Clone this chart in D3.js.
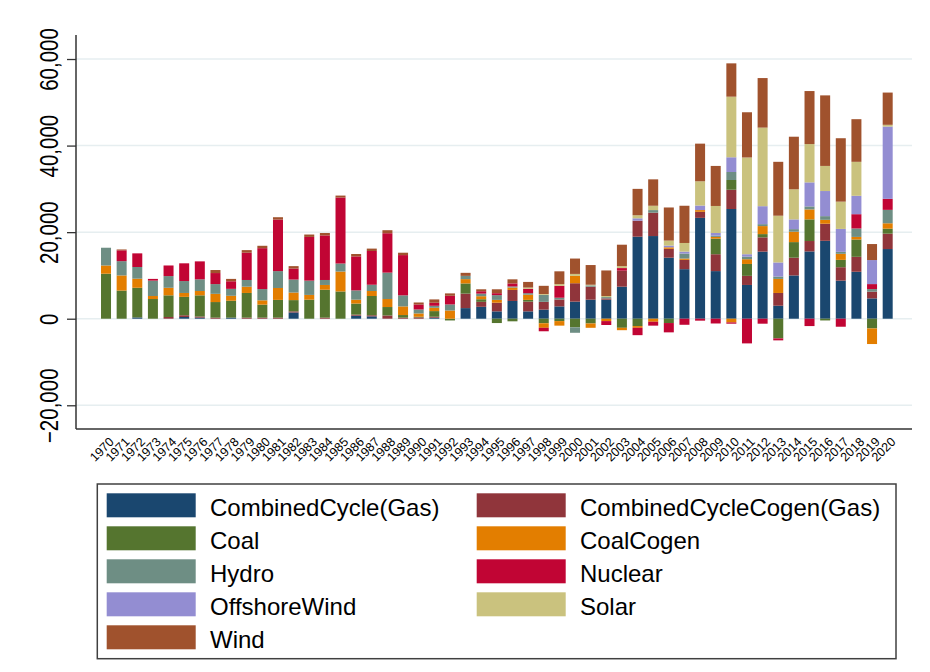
<!DOCTYPE html>
<html>
<head>
<meta charset="utf-8">
<script src="https://cdn.jsdelivr.net/npm/d3@7"></script>
<style>
  html, body { margin: 0; padding: 0; background: #fff; }
  svg { display: block; font-family: Arial, "Liberation Sans", sans-serif; }
</style>
</head>
<body>
<svg id="chart" width="930" height="672"></svg>
<script>
// ---------------- DATA ----------------
const years = d3.range(1970, 2021);

const seriesNames = [
  "CombinedCycle(Gas)", "CombinedCycleCogen(Gas)", "Coal", "CoalCogen",
  "Hydro", "Nuclear", "OffshoreWind", "Solar", "Wind"
];

const combinedCycleGas = [0,0,300,0,0,400,250,0,250,0,
  0,0,1450,0,0,0,700,550,0,0,
  0,230,0,2450,2750,1700,4100,1700,2100,2850,
  3950,4400,4400,7400,18950,19100,14100,11450,23300,11000,
  25350,7800,15500,3000,10000,15550,18000,8800,10850,4700,16100];

const combinedCycleCogenGas = [0,0,0,0,400,400,250,250,0,250,
  250,250,250,0,250,0,250,250,750,250,
  300,230,0,3350,1150,2000,2550,2250,1800,1600,
  4250,3000,300,3700,3700,5400,2050,2150,1400,3900,
  4450,2100,3300,2950,4100,2400,3950,3100,3450,1550,3550];

const coal = [10400,6500,6850,4550,5000,4250,4900,3600,3900,5700,
  3000,4100,2600,4400,6450,6300,2550,4450,1950,600,
  150,1300,-400,2350,600,-1000,-600,400,-1050,-550,
  -2000,-1100,0,-2100,-1700,0,-1000,0,0,3600,
  2250,2750,750,-4550,3600,5000,-400,1700,4000,-2250,1150];

const coalCogen = [1900,3500,2100,700,1750,900,1000,1900,1150,1450,
  1000,2750,1750,1100,1100,4600,900,1150,1850,2000,
  770,770,1900,1000,700,650,550,1200,-1050,-1050,
  1700,-1000,-550,-550,-400,-700,350,300,400,400,
  -850,1100,1850,3250,2400,2300,900,1400,600,-3600,1250];

const hydro = [4100,3300,2700,3550,2700,2750,2700,2250,1600,1550,
  2600,3900,3000,3300,1150,1850,2150,1450,6100,2550,
  920,460,1400,750,600,1100,250,350,1600,400,
  -1250,300,300,0,0,600,0,1150,0,300,
  1850,600,450,550,600,700,850,450,1950,600,3100];

const nuclear = [0,2500,3150,400,2450,4100,4150,2550,1750,6300,
  9450,11900,2550,10100,10300,15250,7850,7800,9100,9300,
  1150,700,2000,0,550,450,700,1000,-800,2750,
  0,0,-900,600,-1700,-900,-2150,-1400,-450,-1100,
  -300,-5700,-1150,-450,0,-1700,0,-1850,3300,1150,2550];

const offshoreWind = [0,0,0,0,0,0,0,0,0,0,
  0,0,0,0,0,0,0,0,0,0,
  0,0,0,0,0,0,0,0,0,0,
  0,0,0,0,550,0,400,450,1050,600,
  3400,550,4150,3250,2250,5550,5800,5300,4250,5550,16700];

const solar = [0,0,0,0,0,0,0,0,0,0,
  0,0,0,0,0,0,0,0,0,0,
  0,0,0,0,0,0,0,300,200,400,
  450,150,250,450,700,1000,1150,2000,5600,6250,
  14000,22350,18150,10800,6950,8850,5800,6300,7850,0,400];

const wind = [0,200,0,0,0,0,0,700,550,600,
  550,550,550,550,550,450,550,550,700,550,
  460,770,550,700,450,900,950,1300,1900,2950,
  3550,4550,5900,4950,6100,6100,7650,8600,8700,9250,
  7700,10450,11450,12450,12150,12250,16300,14650,9850,3700,7450];

const seriesValues = [combinedCycleGas, combinedCycleCogenGas, coal, coalCogen,
  hydro, nuclear, offshoreWind, solar, wind];

const colors = ["#1a476f", "#90353b", "#55752f", "#e37e00", "#6e8e84",
  "#c10534", "#938dd2", "#cac27e", "#a0522d"];

const yTicks = [-20000, 0, 20000, 40000, 60000];

// ---------------- CHART ----------------
const svg = d3.select("#chart");

const rows = years.map((yr, i) => {
  const r = { year: yr };
  seriesNames.forEach((s, j) => { r[s] = seriesValues[j][i]; });
  return r;
});

const stack = d3.stack().keys(seriesNames).offset(d3.stackOffsetDiverging);
const stacked = stack(rows);

const x = d3.scaleBand()
  .domain(years)
  .range([98.2, 895.5])
  .paddingInner(0.36)
  .paddingOuter(0.18);

const y = d3.scaleLinear()
  .domain([-25480, 65550])
  .range([429, 35]);

const plotLeft = 76, plotRight = 912;

// gridlines
svg.append("g")
  .selectAll("line")
  .data(yTicks)
  .join("line")
  .attr("x1", plotLeft)
  .attr("x2", plotRight)
  .attr("y1", d => y(d))
  .attr("y2", d => y(d))
  .attr("stroke", "#e6eef0")
  .attr("stroke-width", 1.5);

// bars
svg.append("g")
  .selectAll("g")
  .data(stacked)
  .join("g")
  .attr("fill", (d, i) => colors[i])
  .selectAll("rect")
  .data(d => d)
  .join("rect")
  .attr("x", d => x(d.data.year))
  .attr("width", x.bandwidth())
  .attr("y", d => y(Math.max(d[0], d[1])))
  .attr("height", d => Math.abs(y(d[0]) - y(d[1])));

// y axis
const yAxis = d3.axisLeft(y)
  .tickValues(yTicks)
  .tickSize(9)
  .tickFormat(d3.format(","));
const gy = svg.append("g")
  .attr("transform", `translate(${plotLeft},0)`)
  .call(yAxis);
gy.select(".domain").remove();
gy.selectAll(".tick line").attr("stroke", "#333").attr("stroke-width", 1.3);
gy.selectAll(".tick text").remove();
gy.selectAll(".tick")
  .append("text")
  .attr("transform", "translate(-18,0) rotate(-90) scale(0.82,1)")
  .attr("text-anchor", "middle")
  .attr("fill", "#000")
  .attr("font-size", 25)
  .text(d => d3.format(",")(d));

svg.append("line")
  .attr("x1", plotLeft).attr("x2", plotLeft)
  .attr("y1", 35).attr("y2", 429)
  .attr("stroke", "#333").attr("stroke-width", 1.5);

// x axis
const xAxis = d3.axisBottom(x).tickSize(0).tickSizeOuter(0);
const gx = svg.append("g")
  .attr("transform", "translate(0,429)")
  .call(xAxis);
gx.select(".domain").remove();
gx.selectAll(".tick text")
  .attr("transform", "translate(6,11) rotate(-45)")
  .attr("text-anchor", "end")
  .attr("dy", "0.3em")
  .attr("y", 0)
  .attr("font-size", 12.5)
  .attr("fill", "#000");

svg.append("line")
  .attr("x1", plotLeft).attr("x2", plotRight)
  .attr("y1", 429).attr("y2", 429)
  .attr("stroke", "#333").attr("stroke-width", 1.5);

// legend
const legend = svg.append("g");
legend.append("rect")
  .attr("x", 97.3).attr("y", 484)
  .attr("width", 798.7).attr("height", 174.7)
  .attr("fill", "#fff")
  .attr("stroke", "#404040")
  .attr("stroke-width", 1.5);

const legendItems = legend.selectAll("g.item")
  .data(seriesNames)
  .join("g")
  .attr("class", "item")
  .attr("transform", (d, i) => {
    const col = i % 2, row = Math.floor(i / 2);
    return `translate(${col === 0 ? 106.7 : 476.7},${493.3 + row * 33})`;
  });
legendItems.append("rect")
  .attr("width", 89).attr("height", 24)
  .attr("fill", (d, i) => colors[i]);
legendItems.append("text")
  .attr("x", 103.3)
  .attr("y", 22.4)
  .attr("font-size", 24)
  .attr("fill", "#000")
  .text(d => d);
</script>
</body>
</html>
